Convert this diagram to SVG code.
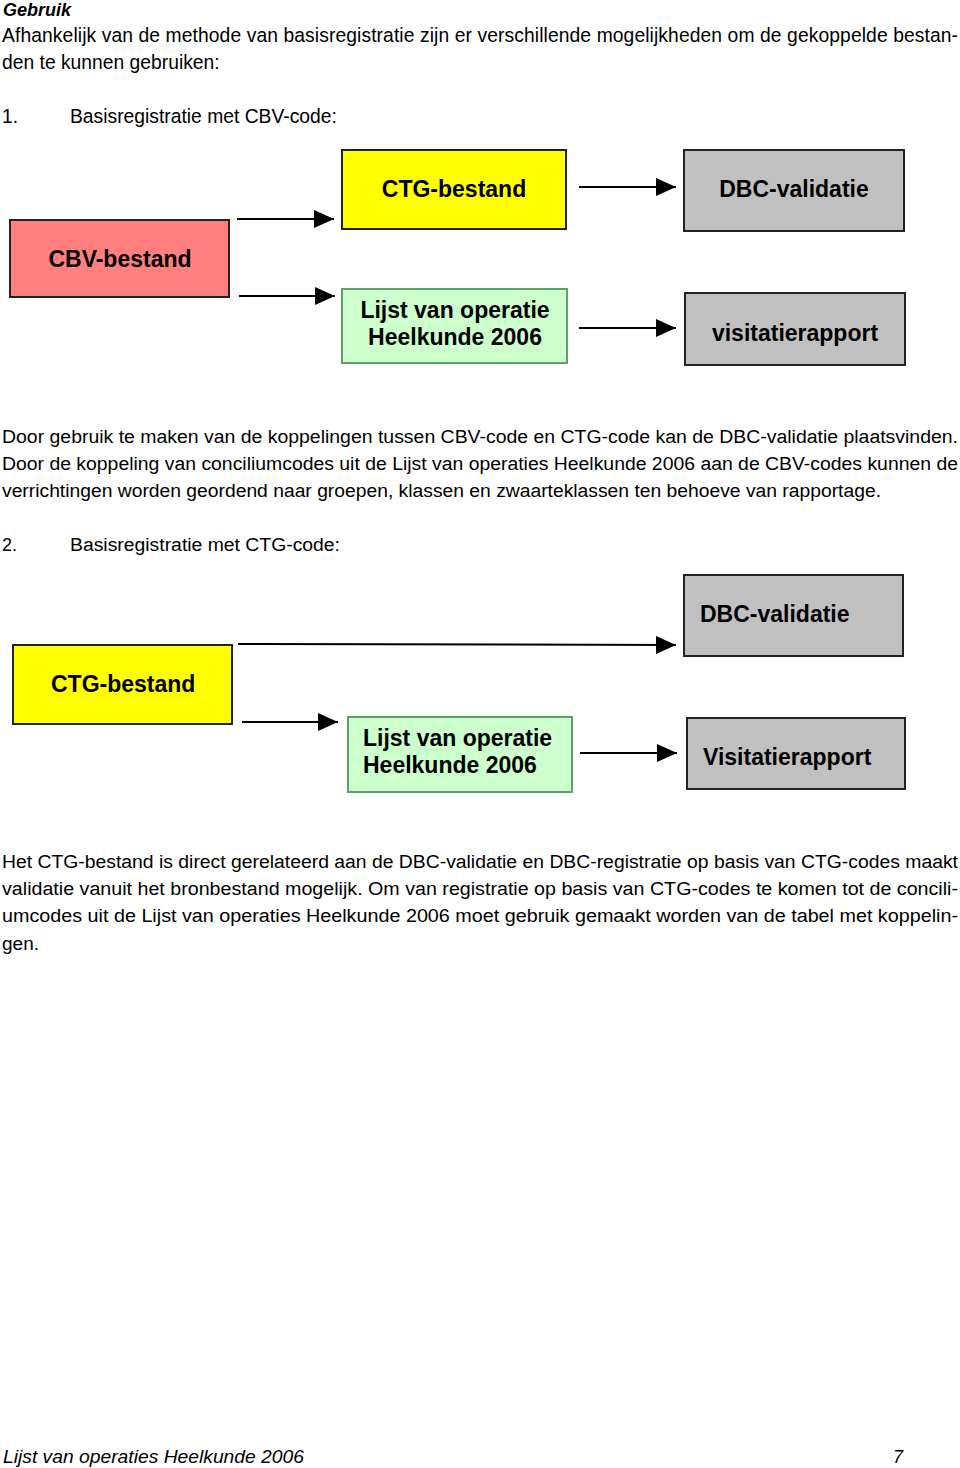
<svg xmlns="http://www.w3.org/2000/svg" width="960" height="1468" viewBox="0 0 960 1468">
<style>
.t{font-family:"Liberation Sans",Arial,sans-serif;font-size:19.3px;fill:#000}
.c{font-family:"Liberation Sans",Arial,sans-serif;font-size:18px;fill:#000}
.b{font-family:"Liberation Sans",Arial,sans-serif;font-size:23px;font-weight:bold;fill:#000}
.i{font-family:"Liberation Sans",Arial,sans-serif;font-size:18px;font-style:italic;fill:#000}
.box{stroke:#222;stroke-width:2}
.yel{fill:#ffff00}
.red{fill:#ff7f7f}
.grn{fill:#ccffcc;stroke:#5f9f6f}
.gry{fill:#c0c0c0}
.ln{stroke:#000;stroke-width:2;fill:none;marker-end:url(#ah)}
</style>
<defs>
<marker id="ah" markerWidth="20" markerHeight="18" refX="20" refY="9" orient="auto" markerUnits="userSpaceOnUse" viewBox="0 0 20 18">
<path d="M0,0 L20,9 L0,18 Z" fill="#000"/>
</marker>
</defs>
<rect width="960" height="1468" fill="#fff"/>
<text x="3" y="16" class="i" font-weight="bold" font-size="20">Gebruik</text>
<text x="2" y="42" class="t" textLength="956" lengthAdjust="spacing">Afhankelijk van de methode van basisregistratie zijn er verschillende mogelijkheden om de gekoppelde bestan-</text>
<text x="2" y="69" class="t">den te kunnen gebruiken:</text>
<text x="2" y="123" class="t">1.</text>
<text x="70" y="123" class="t">Basisregistratie met CBV-code:</text>

<g id="connectors">
<line x1="237" y1="219" x2="334" y2="219" class="ln"/>
<line x1="239" y1="296" x2="335" y2="296" class="ln"/>
<line x1="579" y1="187" x2="676" y2="187" class="ln"/>
<line x1="579" y1="328" x2="676" y2="328" class="ln"/>
<line x1="238" y1="644" x2="676" y2="645" class="ln"/>
<line x1="242" y1="722" x2="338" y2="722" class="ln"/>
<line x1="580" y1="753" x2="677" y2="753" class="ln"/>
</g>

<g id="n1-ctg"><rect x="342" y="150" width="224" height="79" class="box yel"/><text x="454" y="197" class="b" text-anchor="middle">CTG-bestand</text></g>
<g id="n1-dbc"><rect x="684" y="150" width="220" height="81" class="box gry"/><text x="794" y="197" class="b" text-anchor="middle">DBC-validatie</text></g>
<g id="n1-cbv"><rect x="10" y="220" width="219" height="77" class="box red"/><text x="120" y="267" class="b" text-anchor="middle">CBV-bestand</text></g>
<g id="n1-lijst"><rect x="342" y="289" width="225" height="74" class="box grn"/><text x="455" y="318" class="b" text-anchor="middle">Lijst van operatie</text><text x="455" y="345" class="b" text-anchor="middle">Heelkunde 2006</text></g>
<g id="n1-visit"><rect x="685" y="293" width="220" height="72" class="box gry"/><text x="795" y="341" class="b" text-anchor="middle">visitatierapport</text></g>

<text x="2" y="443" class="c" textLength="956" lengthAdjust="spacingAndGlyphs">Door gebruik te maken van de koppelingen tussen CBV-code en CTG-code kan de DBC-validatie plaatsvinden.</text>
<text x="2" y="470" class="c" textLength="956" lengthAdjust="spacingAndGlyphs">Door de koppeling van conciliumcodes uit de Lijst van operaties Heelkunde 2006 aan de CBV-codes kunnen de</text>
<text x="2" y="497" class="c" textLength="879" lengthAdjust="spacingAndGlyphs">verrichtingen worden geordend naar groepen, klassen en zwaarteklassen ten behoeve van rapportage.</text>
<text x="2" y="551" class="c">2.</text>
<text x="70" y="551" class="c" textLength="270" lengthAdjust="spacingAndGlyphs">Basisregistratie met CTG-code:</text>

<g id="n2-dbc"><rect x="684" y="575" width="219" height="81" class="box gry"/><text x="700" y="622" class="b">DBC-validatie</text></g>
<g id="n2-ctg"><rect x="13" y="645" width="219" height="79" class="box yel"/><text x="51" y="692" class="b">CTG-bestand</text></g>
<g id="n2-lijst"><rect x="348" y="717" width="224" height="75" class="box grn"/><text x="363" y="746" class="b">Lijst van operatie</text><text x="363" y="773" class="b">Heelkunde 2006</text></g>
<g id="n2-visit"><rect x="687" y="718" width="218" height="71" class="box gry"/><text x="703" y="765" class="b">Visitatierapport</text></g>

<text x="2" y="868" class="c" textLength="956" lengthAdjust="spacingAndGlyphs">Het CTG-bestand is direct gerelateerd aan de DBC-validatie en DBC-registratie op basis van CTG-codes maakt</text>
<text x="2" y="895" class="c" textLength="956" lengthAdjust="spacingAndGlyphs">validatie vanuit het bronbestand mogelijk. Om van registratie op basis van CTG-codes te komen tot de concili-</text>
<text x="2" y="922" class="c" textLength="956" lengthAdjust="spacingAndGlyphs">umcodes uit de Lijst van operaties Heelkunde 2006 moet gebruik gemaakt worden van de tabel met koppelin-</text>
<text x="2" y="950" class="c" textLength="37" lengthAdjust="spacingAndGlyphs">gen.</text>

<text x="3" y="1463" class="i" textLength="301" lengthAdjust="spacingAndGlyphs">Lijst van operaties Heelkunde 2006</text>
<text x="893" y="1463" class="i">7</text>
</svg>
